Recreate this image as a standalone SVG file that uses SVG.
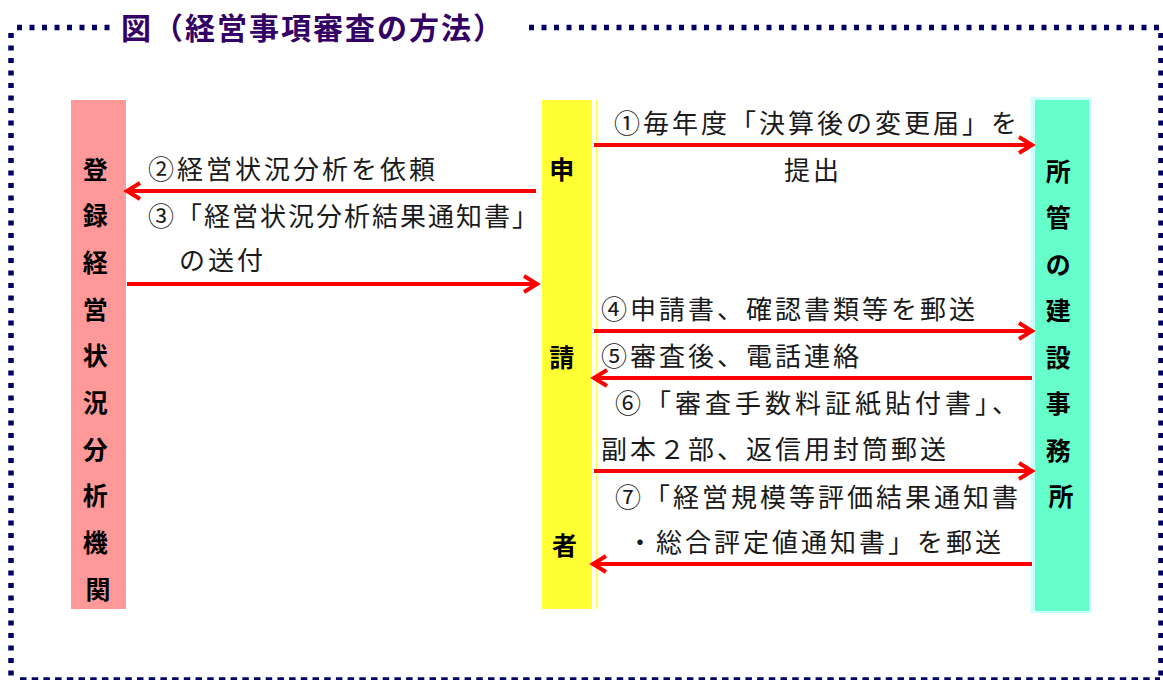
<svg xmlns="http://www.w3.org/2000/svg" width="1163" height="680" viewBox="0 0 1163 680">
  <style>
    .frame { stroke: #000066; fill: none; }
    .dot { stroke-width: 5.5; stroke-dasharray: 5 7.5; }
    .dash { stroke-width: 3.3; stroke-dasharray: 6.5 5.2; }
    .title { font-family: "Noto Sans CJK JP", "Noto Sans CJK SC", sans-serif; font-weight: bold; font-size: 30px; letter-spacing: 2px; fill: #330066; }
    .node { font-family: "Noto Sans CJK JP", "Noto Sans CJK SC", sans-serif; font-weight: bold; font-size: 25px; fill: #000000; text-anchor: middle; }
    .lbl { font-family: "Noto Sans CJK JP", "Noto Sans CJK SC", sans-serif; font-weight: normal; font-size: 26px; letter-spacing: 3px; fill: #1a1a1a; }
    .wide { letter-spacing: 4px; }
    .narrow { letter-spacing: 2px; }
    .arrow { stroke: #FF0000; stroke-width: 4; fill: none; marker-end: url(#ah); }
  </style>
  <defs>
    <marker id="ah" markerUnits="userSpaceOnUse" viewBox="-20 -12 24 24" markerWidth="24" markerHeight="24" refX="0" refY="0" orient="auto">
      <path d="M-14,-8 L-1,0 L-14,8" stroke="#FF0000" stroke-width="4" fill="none" stroke-miterlimit="6"/>
    </marker>
  </defs>
  <rect x="0" y="0" width="1163" height="680" fill="#FFFFFF"/>

  <g id="frame">
    <line class="frame dot" x1="17" y1="27.5" x2="116" y2="27.5"/>
    <line class="frame dot" x1="529" y1="27.5" x2="1163" y2="27.5"/>
    <line class="frame dot" x1="11" y1="33" x2="11" y2="677"/>
    <line class="frame dot" x1="1161" y1="33" x2="1161" y2="677"/>
    <line class="frame dash" x1="20" y1="679" x2="1160" y2="679"/>
  </g>

  <g id="title">
    <text class="title" x="121" y="38.5">図（経営事項審査の方法）</text>
  </g>

  <g id="node-analysis">
    <rect x="71" y="100" width="55" height="509" fill="#FF9999"/>
    <text class="node">
      <tspan x="98" y="178.5">登</tspan>
      <tspan x="98" y="225.2">録</tspan>
      <tspan x="98" y="271.9">経</tspan>
      <tspan x="98" y="318.6">営</tspan>
      <tspan x="98" y="365.3">状</tspan>
      <tspan x="98" y="412">況</tspan>
      <tspan x="98" y="458.7">分</tspan>
      <tspan x="98" y="505.4">析</tspan>
      <tspan x="98" y="552.1">機</tspan>
      <tspan x="98" y="598.8">関</tspan>
    </text>
  </g>

  <g id="node-applicant">
    <rect x="542" y="100" width="50" height="509" fill="#FFFF33"/>
    <line x1="596.6" y1="100" x2="596.6" y2="609" stroke="#FFFF55" stroke-width="1.4"/>
    <text class="node">
      <tspan x="564.5" y="179">申</tspan>
      <tspan x="564.5" y="366.5">請</tspan>
      <tspan x="564.5" y="554.5">者</tspan>
    </text>
  </g>

  <g id="node-office">
    <rect x="1030.5" y="97" width="61" height="516" fill="#CCFFFF"/>
    <rect x="1035" y="100" width="54" height="511" fill="#66FFCC"/>
    <text class="node">
      <tspan x="1061" y="180.5">所</tspan>
      <tspan x="1061" y="227">管</tspan>
      <tspan x="1061" y="273.5">の</tspan>
      <tspan x="1061" y="320">建</tspan>
      <tspan x="1061" y="366.5">設</tspan>
      <tspan x="1061" y="413">事</tspan>
      <tspan x="1061" y="459.5">務</tspan>
      <tspan x="1061" y="506">所</tspan>
    </text>
  </g>

  <g id="connectors">
    <line class="arrow" x1="594" y1="145" x2="1033" y2="145"/>
    <line class="arrow" x1="536" y1="191" x2="126" y2="191"/>
    <line class="arrow" x1="127" y1="284" x2="538" y2="284"/>
    <line class="arrow" x1="594" y1="331" x2="1033" y2="331"/>
    <line class="arrow" x1="1032" y1="378" x2="593" y2="378"/>
    <line class="arrow" x1="594" y1="471" x2="1033" y2="471"/>
    <line class="arrow" x1="1032" y1="564" x2="592" y2="564"/>
  </g>

  <g id="labels">
    <text class="lbl" x="614" y="133">①毎年度「決算後の変更届」を</text>
    <text class="lbl" x="784" y="180">提出</text>
    <text class="lbl" x="148" y="179">②経営状況分析を依頼</text>
    <text class="lbl narrow" x="148" y="226">③「経営状況分析結果通知書」</text>
    <text class="lbl" x="179" y="270">の送付</text>
    <text class="lbl" x="601" y="319">④申請書、確認書類等を郵送</text>
    <text class="lbl" x="601" y="366">⑤審査後、電話連絡</text>
    <text class="lbl wide" x="615" y="413">⑥「審査手数料証紙貼付書」、</text>
    <text class="lbl" x="601" y="459">副本２部、返信用封筒郵送</text>
    <text class="lbl" x="615" y="507">⑦「経営規模等評価結果通知書</text>
    <text class="lbl" x="627" y="552">・総合評定値通知書」を郵送</text>
  </g>
</svg>
